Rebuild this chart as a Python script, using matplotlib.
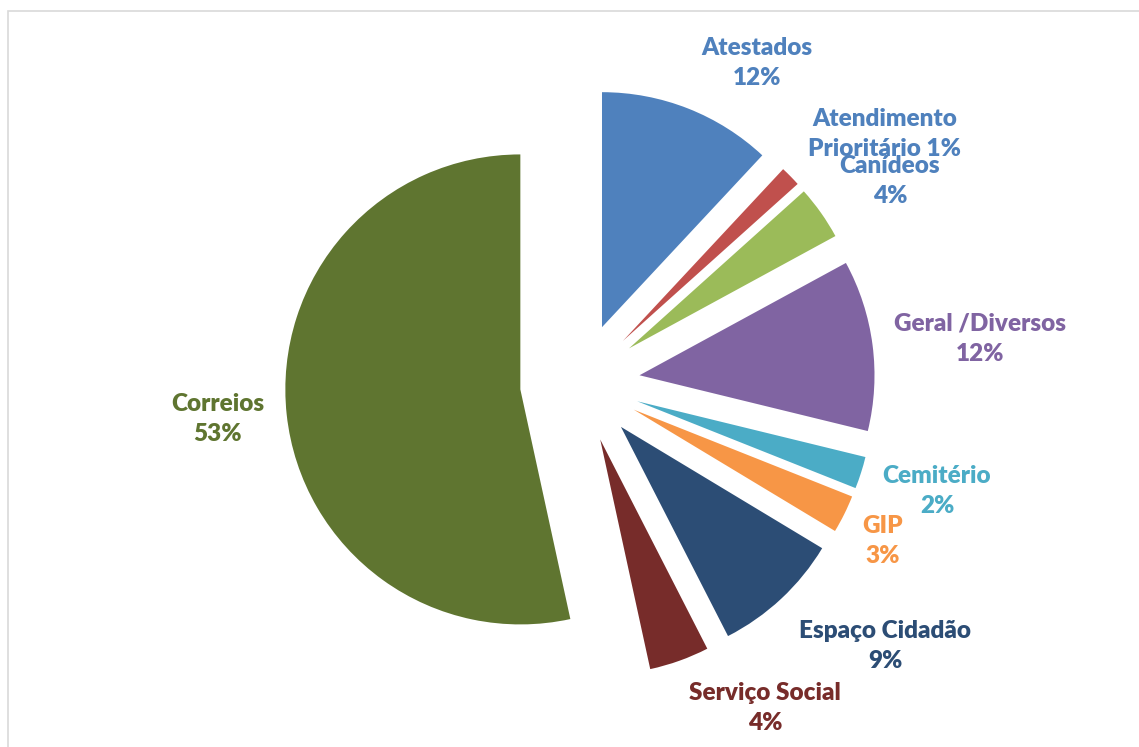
import matplotlib
matplotlib.use("Agg")
import matplotlib.pyplot as plt
from matplotlib.patches import Rectangle

# slice data (clockwise from 12 o'clock)
categories = ["Atestados", "Atendimento Prioritário", "Canídeos", "Geral /Diversos",
              "Cemitério", "GIP", "Espaço Cidadão", "Serviço Social", "Correios"]
values = [11.9, 1.4, 3.7, 11.7, 2.2, 2.6, 8.8, 4.1, 53.2]

slice_colors = ["#4F81BD", "#C0504D", "#9BBB59", "#8064A2", "#4BACC6",
                "#F79646", "#2C4D75", "#772C2A", "#5F7530"]
label_colors = ["#4F81BD", "#4F81BD", "#4F81BD", "#8064A2", "#4BACC6",
                "#F79646", "#2C4D75", "#772C2A", "#5F7530"]

# label text layout (line breaks) and centre position in pixels from top-left
label_lines = ["Atestados\n{p}%", "Atendimento\nPrioritário {p}%", "Canídeos\n{p}%",
               "Geral /Diversos\n{p}%", "Cemitério\n{p}%", "GIP\n{p}%",
               "Espaço Cidadão\n{p}%", "Serviço Social\n{p}%", "Correios\n{p}%"]
label_pos = [(757, 63), (885, 134), (890, 181), (980, 339), (937, 491),
             (883, 541), (885, 646), (765, 708), (218, 419)]

W, H = 1139, 747
fig = plt.figure(figsize=(W / 100, H / 100), dpi=100)
ax = fig.add_axes([0, 0, 1, 1])

# explode is in data units (pixels here), not a fraction of the radius
ax.pie(values, colors=slice_colors, startangle=90, counterclock=False,
       radius=235, center=(580, H - 383), explode=[60] * len(values),
       wedgeprops=dict(linewidth=0), frame=False)
ax.set_xlim(0, W)
ax.set_ylim(0, H)
ax.set_aspect("equal")
ax.axis("off")

total = sum(values)
for txt, (x, y), c, v in zip(label_lines, label_pos, label_colors, values):
    p = round(v / total * 100)
    ax.text(x, H - y, txt.format(p=p), ha="center", va="center", color=c,
            fontsize=17.5, fontweight="heavy", family="Lato", linespacing=1.45)

# chart area border
ax.add_patch(Rectangle((8, -20), W + 20, H - 11 + 20, fill=False,
                       edgecolor="#D9D9D9", linewidth=1.2, clip_on=False))

fig.savefig("out.png", dpi=100, facecolor="white")
